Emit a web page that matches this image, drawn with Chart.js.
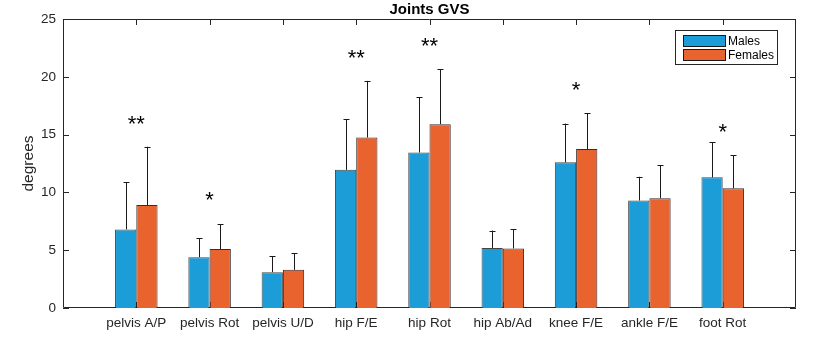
<!DOCTYPE html>
<html lang="en">
<head>
<meta charset="UTF-8">
<title>Joints GVS</title>
<script src="https://cdn.jsdelivr.net/npm/chart.js"></script>
<style>
  body { margin: 0; background: #fff; }
  canvas { display: block; }
</style>
</head>
<body>
<canvas id="gvsChart" width="813" height="337"></canvas>
<script>
// joint categories and group means / standard deviations (degrees)
const joints = ['pelvis A/P', 'pelvis Rot', 'pelvis U/D', 'hip F/E', 'hip Rot',
                'hip Ab/Ad', 'knee F/E', 'ankle F/E', 'foot Rot'];
const malesMean   = [6.8, 4.4, 3.1, 11.95, 13.45, 5.2, 12.6, 9.3, 11.3];
const malesSD     = [4.1, 1.65, 1.4, 4.4, 4.8, 1.5, 3.35, 2.05, 3.05];
const femalesMean = [8.9, 5.1, 3.3, 14.75, 15.9, 5.15, 13.75, 9.5, 10.35];
const femalesSD   = [5.05, 2.15, 1.45, 4.9, 4.75, 1.65, 3.1, 2.85, 2.85];
// significance markers and the height (degrees) where each is centred
const sigMarks   = ['**', '*', '', '**', '**', '', '*', '', '*'];
const sigHeights = [16.1, 9.5, null, 21.8, 22.8, null, 19.0, null, 15.4];
const yTicks = [0, 5, 10, 15, 20, 25];

const AXIS = '#262626';
const FONT = '"Liberation Sans", Arial, sans-serif';

// pad with empty slots so the groups sit at 1..9 on a 0..10 axis
const pad = arr => [null, ...arr, null];
const labels = ['', ...joints, ''];

const frame = {
  id: 'frame',
  beforeDatasetsDraw(chart) {
    const { ctx, chartArea: a, scales: { x, y } } = chart;
    ctx.save();
    ctx.strokeStyle = AXIS;
    ctx.lineWidth = 1;
    ctx.beginPath();
    ctx.rect(a.left + 0.5, a.top + 0.5, a.right - a.left - 1, a.bottom - a.top - 1);
    for (let i = 1; i <= joints.length; i++) {
      const px = Math.round(x.getPixelForValue(i)) + 0.5;
      ctx.moveTo(px, a.top); ctx.lineTo(px, a.top + 6);
      ctx.moveTo(px, a.bottom); ctx.lineTo(px, a.bottom - 6);
    }
    yTicks.forEach(v => {
      const py = Math.round(y.getPixelForValue(v)) + 0.5;
      ctx.moveTo(a.left, py); ctx.lineTo(a.left + 6, py);
      ctx.moveTo(a.right, py); ctx.lineTo(a.right - 6, py);
    });
    ctx.stroke();
    ctx.restore();
  },
  afterDatasetsDraw(chart) {
    const { ctx, chartArea: a, scales: { x, y } } = chart;
    ctx.save();
    // one-sided error bars
    const sds = [malesSD, femalesSD];
    chart.data.datasets.forEach((ds, d) => {
      chart.getDatasetMeta(d).data.forEach((bar, i) => {
        const v = ds.data[i];
        if (v == null) return;
        const top = y.getPixelForValue(v + sds[d][i - 1]);
        const bx = Math.round(bar.x) + 0.5;
        ctx.strokeStyle = '#1a1a1a';
        ctx.lineWidth = 1;
        ctx.beginPath();
        ctx.moveTo(bx, bar.y); ctx.lineTo(bx, top);
        ctx.moveTo(bx - 3, Math.round(top) + 0.5); ctx.lineTo(bx + 3, Math.round(top) + 0.5);
        ctx.stroke();
      });
    });
    // significance stars
    ctx.fillStyle = '#000';
    ctx.font = '22px ' + FONT;
    ctx.textAlign = 'center';
    ctx.textBaseline = 'alphabetic';
    sigMarks.forEach((s, i) => {
      if (!s) return;
      ctx.fillText(s, x.getPixelForValue(i + 1), y.getPixelForValue(sigHeights[i]) + 9);
    });
    // title
    ctx.fillStyle = '#000';
    ctx.font = 'bold 15px ' + FONT;
    ctx.textBaseline = 'middle';
    ctx.fillText('Joints GVS', (a.left + a.right) / 2, 10);
    // y axis label
    ctx.save();
    ctx.translate(29, (a.top + a.bottom) / 2);
    ctx.rotate(-Math.PI / 2);
    ctx.font = '15.5px ' + FONT;
    ctx.fillStyle = AXIS;
    ctx.fillText('degrees', 0, 0);
    ctx.restore();
    // legend
    const lx = 675, ly = 30, lw = 102, lh = 34;
    ctx.fillStyle = '#fff';
    ctx.fillRect(lx, ly, lw, lh);
    ctx.strokeStyle = AXIS;
    ctx.strokeRect(lx + 0.5, ly + 0.5, lw, lh);
    ctx.font = '12px ' + FONT;
    ctx.textAlign = 'left';
    chart.data.datasets.forEach((ds, d) => {
      const ry = ly + 5 + d * 14;
      ctx.fillStyle = ds.backgroundColor;
      ctx.fillRect(lx + 8, ry, 42, 11);
      ctx.strokeStyle = '#1a1a1a';
      ctx.strokeRect(lx + 8.5, ry + 0.5, 42, 11);
      ctx.fillStyle = '#000';
      ctx.fillText(ds.label, lx + 53, ry + 6.5);
    });
    ctx.restore();
  }
};

new Chart(document.getElementById('gvsChart'), {
  type: 'bar',
  data: {
    labels: labels,
    datasets: [
      { label: 'Males', data: pad(malesMean), backgroundColor: '#1c9dd8',
        borderColor: 'rgba(35,35,35,0.85)', borderWidth: 1 },
      { label: 'Females', data: pad(femalesMean), backgroundColor: '#e9632e',
        borderColor: 'rgba(35,20,20,0.9)', borderWidth: 1 }
    ]
  },
  options: {
    responsive: false,
    animation: false,
    categoryPercentage: 0.58,
    barPercentage: 1,
    layout: { padding: { top: 19, right: 17, left: 0, bottom: 0 } },
    plugins: { legend: { display: false }, title: { display: false }, tooltip: { enabled: false } },
    scales: {
      x: {
        offset: false,
        grid: { display: false, drawTicks: false },
        border: { display: false },
        ticks: { autoSkip: false, maxRotation: 0, padding: 7, color: AXIS,
                 font: { family: FONT, size: 13.5 } },
        afterFit: s => { s.height = 29; }
      },
      y: {
        min: 0, max: 25,
        grid: { display: false, drawTicks: false },
        border: { display: false },
        ticks: { stepSize: 5, padding: 7, color: AXIS, font: { family: FONT, size: 13.5 } },
        afterFit: s => { s.width = 63; }
      }
    }
  },
  plugins: [frame]
});
</script>
</body>
</html>
